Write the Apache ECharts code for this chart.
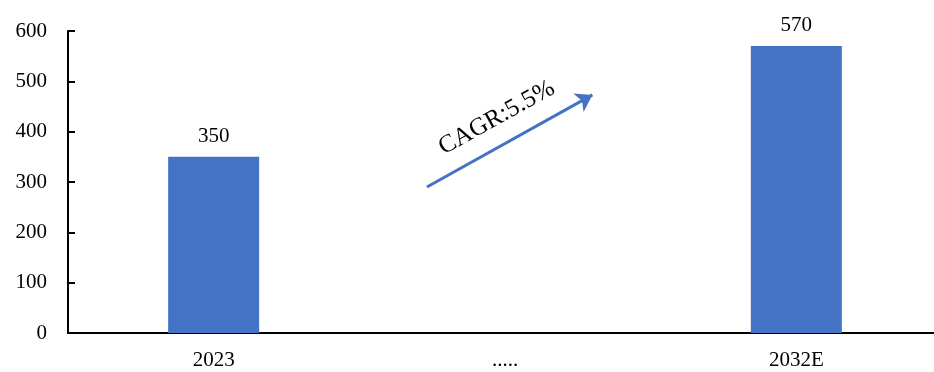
<!DOCTYPE html>
<html>
<head>
<meta charset="utf-8">
<script src="https://cdn.jsdelivr.net/npm/echarts@6/dist/echarts.min.js"></script>
<style>
  html, body { margin: 0; padding: 0; background: #fff; }
  #chart { width: 934px; height: 372px; }
</style>
</head>
<body>
<div id="chart"></div>
<script>
// Market size by year
const categories = ['2023', '.....', '2032E'];
const values = [350, null, 570];
const yTicks = [0, 100, 200, 300, 400, 500, 600];

// Growth arrow, in (category position, value) units
const arrowStart = [1.232, 290];
const arrowEnd = [1.80, 473];
const arrowText = 'CAGR:5.5%';

const font = '"Liberation Serif", "Times New Roman", serif';
const blue = '#4472C4';

const chart = echarts.init(document.getElementById('chart'));
chart.setOption({
  animation: false,
  backgroundColor: '#fff',
  grid: {
    left: 68, width: 874, top: 31, height: 302,
    containLabel: false,
    outerBoundsMode: 'none'
  },
  xAxis: [
    {
      type: 'category',
      data: categories,
      boundaryGap: true,
      axisLine: { lineStyle: { color: '#000', width: 2 } },
      axisTick: { inside: true, length: 6, lineStyle: { color: '#000', width: 2 } },
      axisLabel: { fontFamily: font, fontSize: 21, color: '#000', margin: 17 }
    },
    {
      type: 'value',
      min: 0,
      max: 3,
      show: false
    }
  ],
  yAxis: {
    type: 'value',
    min: yTicks[0],
    max: yTicks[yTicks.length - 1],
    interval: 100,
    splitLine: { show: false },
    axisLine: { show: true, lineStyle: { color: '#000', width: 2 } },
    axisTick: { show: true, inside: true, length: 7, lineStyle: { color: '#000', width: 2 } },
    axisLabel: { fontFamily: font, fontSize: 21, color: '#000', margin: 21 }
  },
  series: [
    {
      type: 'bar',
      data: values,
      barWidth: 91,
      itemStyle: { color: blue },
      label: {
        show: true,
        position: 'top',
        distance: 10,
        fontFamily: font,
        fontSize: 21,
        color: '#000'
      }
    },
    {
      type: 'lines',
      coordinateSystem: 'cartesian2d',
      xAxisIndex: 1,
      yAxisIndex: 0,
      symbol: ['none', 'arrow'],
      symbolSize: 16,
      lineStyle: { color: blue, width: 3, opacity: 1 },
      label: {
        show: true,
        position: 'middle',
        distance: 14,
        formatter: arrowText,
        fontFamily: font,
        fontSize: 25,
        color: '#000'
      },
      data: [{ coords: [arrowStart, arrowEnd] }]
    }
  ]
});
</script>
</body>
</html>
